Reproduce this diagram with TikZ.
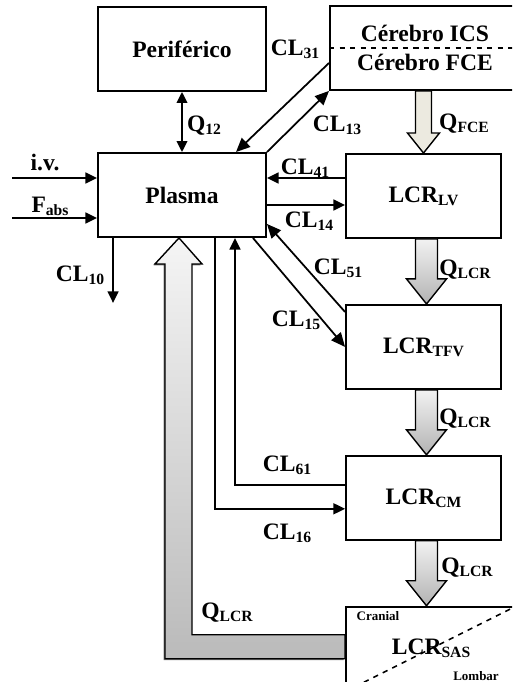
\documentclass[tikz,border=0pt]{standalone}
\usepackage{fontspec}
\setmainfont{Liberation Serif}
\usepackage{xcolor}
\usepackage{tikz}
\usetikzlibrary{arrows.meta, positioning, calc, shadows}

\definecolor{fcefill}{RGB}{236,234,224}
\newcommand{\sbx}[1]{\raisebox{-1.7pt}{\fontsize{8.9}{9}\selectfont #1}}

\begin{document}
\begin{tikzpicture}[
    x=0.02cm, y=-0.02cm,
    compbox/.style={rectangle, draw=black, line width=1.1pt, fill=white,
                    minimum width=3.36cm, minimum height=1.68cm, inner sep=0pt,
                    align=center, font=\fontsize{13.4}{16.4}\selectfont\bfseries},
    lcrbox/.style={compbox, minimum width=3.1cm},
    flow/.style={-{Triangle[length=6.6pt, width=6.2pt]}, line width=1pt},
    bigflow/.style={-{Triangle[length=8pt, width=7pt]}, line width=1pt},
    lbl/.style={font=\fontsize{13.4}{16}\selectfont\bfseries, inner sep=0pt},
    smalllbl/.style={font=\fontsize{7.4}{9}\selectfont\bfseries, inner sep=0pt},
    fatarrow/.style={draw=black, line width=0.8pt, top color=black!5, bottom color=black!30}
]
\path[use as bounding box, clip] (0,0) rectangle (512,682);

% Compartments
\node[compbox] (per) at (182,49) {Periférico};
\node[compbox] (pla) at (182,195) {Plasma};
\node[compbox, anchor=north west, minimum width=3.8cm] (cer) at (329,5)
      {Cérebro ICS\\Cérebro FCE};
\draw[dashed, line width=0.9pt] (cer.west) -- (cer.east);

\node[lcrbox] (lcrlv) at (423.5,196) {LCR\sbx{LV}};
\node[lcrbox, below=1.3cm of lcrlv] (lcrtfv) {LCR\sbx{TFV}};
\node[lcrbox, below=1.3cm of lcrtfv] (lcrcm) {LCR\sbx{CM}};
\node[compbox, below right=1.3cm and 0cm of lcrcm.south west, minimum width=3.4cm]
      (lcrsas) {LCR\sbx{SAS}};
\draw[dashed, line width=0.9pt] (lcrsas.south west) -- (lcrsas.north east);
\node[smalllbl] (cran) at (378,616) {Cranial};
\node[smalllbl] (lomb) at (476,676) {Lombar};

% Inputs and elimination
\coordinate (ivin) at (12,178);
\coordinate (fain) at (12,218);
\coordinate (elim) at ($(pla.south west)+(16,65)$);
\draw[flow] (ivin) -- (pla.west |- ivin);
\draw[flow] (fain) -- (pla.west |- fain);
\draw[flow] ($(pla.south west)+(16,0)$) -- (elim);
\node[lbl] (iv) at (45,162) {i.v.};
\node[lbl] (fabs) at (50,206) {F\sbx{abs}};
\node[lbl] (cl10) at (80,275) {CL\sbx{10}};

% Plasma <-> Periferico
\draw[flow, {Triangle[length=6.2pt, width=6pt]}-{Triangle[length=6.2pt, width=6pt]}] (per.south) -- (pla.north);
\node[lbl] (q12) at (204,126) {Q\sbx{12}};

% Plasma <-> Cerebro
\draw[bigflow] ($(cer.north west)+(0,58)$) -- ($(pla.north)+(54,0)$);
\draw[bigflow] (pla.north east) -- (cer.south west);
\node[lbl] (cl31) at (295,49) {CL\sbx{31}};
\node[lbl] (cl13) at (337,125) {CL\sbx{13}};

% Plasma <-> LCR_LV
\draw[flow] ($(lcrlv.west)+(0,-18)$) -- (pla.east |- {$(lcrlv.west)+(0,-18)$});
\draw[flow] (pla.east |- {$(lcrlv.west)+(0,9)$}) -- ($(lcrlv.west)+(0,9)$);
\node[lbl] (cl41) at (305,168) {CL\sbx{41}};
\node[lbl] (cl14) at (309,221) {CL\sbx{14}};

% Plasma <-> LCR_TFV
\draw[bigflow] ($(lcrtfv.north west)+(0,8)$) -- ($(pla.south east)+(0,-14)$);
\draw[bigflow] ($(pla.south east)+(-14,0)$) -- (lcrtfv.west);
\node[lbl] (cl51) at (338,268) {CL\sbx{51}};
\node[lbl] (cl15) at (296,320) {CL\sbx{15}};

% Plasma <-> LCR_CM
\draw[flow] ($(lcrcm.west)+(0,-13)$) -| ($(pla.south)+(53,0)$);
\draw[flow] ($(pla.south)+(33,0)$) |- ($(lcrcm.west)+(0,11)$);
\node[lbl] (cl61) at (287,465) {CL\sbx{61}};
\node[lbl] (cl16) at (287,533) {CL\sbx{16}};

% Bulk flow of LCR
\coordinate (fcetip) at (lcrlv.north);
\draw[draw=black, line width=0.8pt, fill=fcefill]
      ($(fcetip |- cer.south)+(-8,0)$) -- ($(fcetip)+(-8,-20)$) -- ($(fcetip)+(-16,-20)$)
      -- (fcetip) -- ($(fcetip)+(16,-20)$) -- ($(fcetip)+(8,-20)$)
      -- ($(fcetip |- cer.south)+(8,0)$) -- cycle;
\node[lbl] (qfce) at (464,124) {Q\sbx{FCE}};

\foreach \src/\dst in {lcrlv/lcrtfv, lcrtfv/lcrcm, lcrcm/lcrsas}{
  \coordinate (qtop) at ($(\src.south)+(3,0)$);
  \coordinate (qtip) at (qtop |- \dst.north);
  \draw[fatarrow] ($(qtop)+(-11,0)$) -- ($(qtip)+(-11,-25)$) -- ($(qtip)+(-20,-25)$)
      -- (qtip) -- ($(qtip)+(20,-25)$) -- ($(qtip)+(11,-25)$) -- ($(qtop)+(11,0)$) -- cycle;
}
\node[lbl] (qlcr1) at (465,270) {Q\sbx{LCR}};
\node[lbl] (qlcr2) at (465,419) {Q\sbx{LCR}};
\node[lbl] (qlcr3) at (467,568) {Q\sbx{LCR}};

% Return to plasma
\coordinate (retin) at ($(lcrsas.north west)+(0,29)$);
\coordinate (retout) at ($(lcrsas.north west)+(0,53)$);
\coordinate (rettip) at ($(pla.south)+(-3,0)$);
\draw[fatarrow, bottom color=black!27, top color=black!4,
      drop shadow={shadow xshift=-0.8pt, shadow yshift=-0.8pt, fill=black!55, opacity=1}]
      (retin) -- ($(rettip |- retin)+(13,0)$) -- ($(rettip)+(13,26)$) -- ($(rettip)+(23,26)$)
      -- (rettip) -- ($(rettip)+(-24,26)$) -- ($(rettip)+(-14,26)$)
      -- ($(rettip |- retout)+(-14,0)$) -- (retout) -- cycle;
\node[lbl] (qlcr4) at (227,613) {Q\sbx{LCR}};

\end{tikzpicture}
\end{document}
